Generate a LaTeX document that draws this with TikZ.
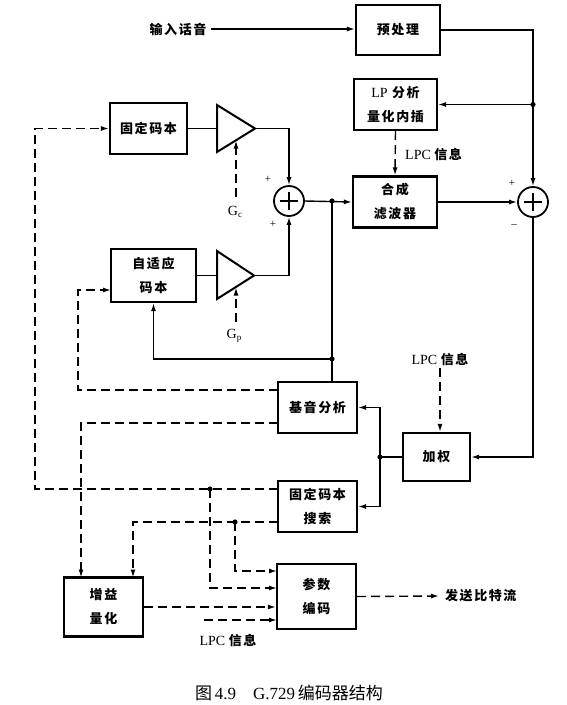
\documentclass[tikz,border=0pt]{standalone}
\usepackage{fontspec}
\setmainfont{Liberation Serif}
\newfontfamily\cjk[LetterSpace=12]{Noto Sans CJK SC}
\newfontfamily\cjkcap{Noto Sans CJK SC}
\usetikzlibrary{arrows.meta,calc}
\newcommand\boxfont{\fontsize{13}{24}\selectfont\cjk\bfseries}
\newcommand\lblfont{\fontsize{14}{16}\selectfont}
\tikzset{
  box/.style={draw, line width=2.2pt, inner sep=0pt, align=center, font=\boxfont},
  conn/.style={line width=1.4pt},
  dconn/.style={line width=1.4pt, dash pattern=on 9pt off 5pt},
  arr/.style={-{Latex[length=8pt,width=5pt]}},
  sumnode/.style={draw, circle, line width=1.8pt, minimum size=30pt, inner sep=0pt},
  tri/.style={line width=2pt, line join=miter},
  lbl/.style={inner sep=2pt, font=\lblfont},
  sgn/.style={inner sep=0pt, font=\fontsize{11}{12}\selectfont},
}
\begin{document}
\begin{tikzpicture}[x=1pt,y=-1pt]
\useasboundingbox (0,0) rectangle (567,705);
% boxes
\node[box, minimum width=84pt, minimum height=50pt] (pre) at (398,30) {预处理};
\node[box, minimum width=83pt, minimum height=51pt] (lp) at (395.5,104.5) {{\rmfamily\mdseries\fontsize{14}{24}\selectfont LP} 分析\\量化内插};
\node[box, minimum width=84pt, minimum height=51pt] (syn) at (395,202) {合成\\滤波器};
\node[box, minimum width=77pt, minimum height=51pt] (fcb) at (148.5,128.5) {固定码本};
\node[box, minimum width=85pt, minimum height=53pt] (acb) at (153.5,275.5) {自适应\\码本};
\node[box, minimum width=79pt, minimum height=51pt] (pitch) at (317.5,407.5) {基音分析};
\node[box, minimum width=67pt, minimum height=48pt] (wt) at (436.5,457) {加权};
\node[box, minimum width=79pt, minimum height=51pt] (fcs) at (317.5,506.5) {固定码本\\搜索};
\node[box, minimum width=79pt, minimum height=65pt] (par) at (316.5,596.5) {参数\\编码};
\node[box, minimum width=79pt, minimum height=59pt] (gq) at (103.5,607) {增益\\量化};
% summing junctions
\node[sumnode] (s1) at (289,201) {};
\node[sumnode] (s2) at (533,202) {};
\draw[line width=1.8pt] ($(s1)+(-9,0)$) -- ($(s1)+(9,0)$) ($(s1)+(0,-9)$) -- ($(s1)+(0,9)$);
\draw[line width=1.8pt] ($(s2)+(-9,0)$) -- ($(s2)+(9,0)$) ($(s2)+(0,-9)$) -- ($(s2)+(0,9)$);
% amplifiers
\coordinate (a1u) at (217,105); \coordinate (a1d) at (217,152);
\coordinate (a1t) at (255,128.5); \coordinate (a1w) at (217,128.5);
\coordinate (a1g) at (236,140.5);
\draw[tri] (a1u) -- (a1t) -- (a1d) -- cycle;
\coordinate (a2u) at (217,251); \coordinate (a2d) at (217,299);
\coordinate (a2t) at (254,275.5); \coordinate (a2w) at (217,275.5);
\coordinate (a2g) at (236,287.5);
\draw[tri] (a2u) -- (a2t) -- (a2d) -- cycle;
% labels
\node[lbl, font=\boxfont, inner sep=4pt] (inlab) at (178,29) {输入话音};
\node[lbl, anchor=west] (lpc1) at (403,155) {LPC {\cjk\bfseries\fontsize{13}{15}\selectfont 信息}};
\node[lbl] (lpc2) at (440,360) {LPC {\cjk\bfseries\fontsize{13}{15}\selectfont 信息}};
\node[lbl] (lpc3) at (228,640) {LPC {\cjk\bfseries\fontsize{13}{15}\selectfont 信息}};
\node[lbl, font=\boxfont, anchor=west, inner sep=6pt] (outlab) at (439,596) {发送比特流};
\node[lbl] (gc) at (235,212) {G\raisebox{-2.5pt}{\fontsize{9}{10}\selectfont c}};
\node[lbl] (gp) at (234,336) {G\raisebox{-2.5pt}{\fontsize{9}{10}\selectfont p}};
\node[sgn] (pl1) at (268,179) {+};
\node[sgn] (pl2) at (273,224) {+};
\node[sgn] (pl3) at (512,183) {+};
\node[sgn] (mi1) at (514,226) {\textendash};
\node[inner sep=0pt, font=\fontsize{17}{19}\selectfont] (cap) at (289,693) {{\cjkcap 图}\,4.9\quad G.729\,{\cjkcap 编码器结构}};
% coordinates
\coordinate (d1) at (533,104.5);
\coordinate (d2) at (332,201);
\coordinate (d3) at (332,359);
\coordinate (d4) at (210,489);
\coordinate (d5) at (235,522);
\coordinate (d6) at (380,457);
\coordinate (fo1) at (278,489);
\coordinate (fo2) at (278,522);
\coordinate (po1) at (278,390);
\coordinate (po2) at (278,423);
\coordinate (lc2) at (35,128.5);
\coordinate (lc3) at (78,290);
\coordinate (ai) at (111,290);
\coordinate (gqi1) at (81,577.5);
\coordinate (gqi2) at (133,577.5);
\coordinate (pi1) at (277,571);
\coordinate (pi2) at (277,588);
\coordinate (pi4) at (277,620);
\coordinate (ls) at (204,620);
\coordinate (gcs) at (236,197);
\coordinate (gps) at (236,322);
% solid connectors
\draw[conn,arr] (inlab.east) -- (inlab.east -| pre.west);
\draw[conn,arr] (pre.east) -| (s2.north);
\draw[conn,arr] (d1) -- (lp.east);
\draw[conn,arr] (syn.east) -- (s2.west);
\draw[conn,arr] (s2.south) |- (wt.east);
\draw[conn] (fcb.east) -- (a1w);
\draw[conn,arr] (a1t) -| (s1.north);
\draw[conn] (acb.east) -- (a2w);
\draw[conn,arr] (a2t) -| (s1.south);
\draw[conn,arr] (s1.east) -- (syn.west);
\draw[conn] (d2) -- (d3) -- (d3 |- pitch.north);
\draw[conn,arr] (d3) -| (acb.south);
\draw[conn] (wt.west) -- (d6);
\draw[conn,arr] (d6) |- (pitch.east);
\draw[conn,arr] (d6) |- (fcs.east);
% dashed connectors
\draw[dconn,arr] (lp.south) -- (syn.north);
\draw[dconn,arr] (gcs) -- (a1g);
\draw[dconn,arr] (gps) -- (a2g);
\draw[dconn,arr] (lpc2.south) -- (lpc2.south |- wt.north);
\draw[dconn,arr] (fo1) -| (lc2) -- (fcb.west);
\draw[dconn,arr] (po1) -| (lc3) -- (ai);
\draw[dconn,arr] (po2) -| (gqi1);
\draw[dconn,arr] (fo2) -| (gqi2);
\draw[dconn,arr] (d4) |- (pi2);
\draw[dconn,arr] (d5) |- (pi1);
\draw[dconn,arr] (gq.east) -- (gq.east -| par.west);
\draw[dconn,arr] (ls) -- (pi4);
\draw[dconn,arr] (par.east) -- (outlab.west);
% dots
\foreach \p in {d1,d2,d3,d4,d5,d6} \fill (\p) circle (2.6);
\end{tikzpicture}
\end{document}
